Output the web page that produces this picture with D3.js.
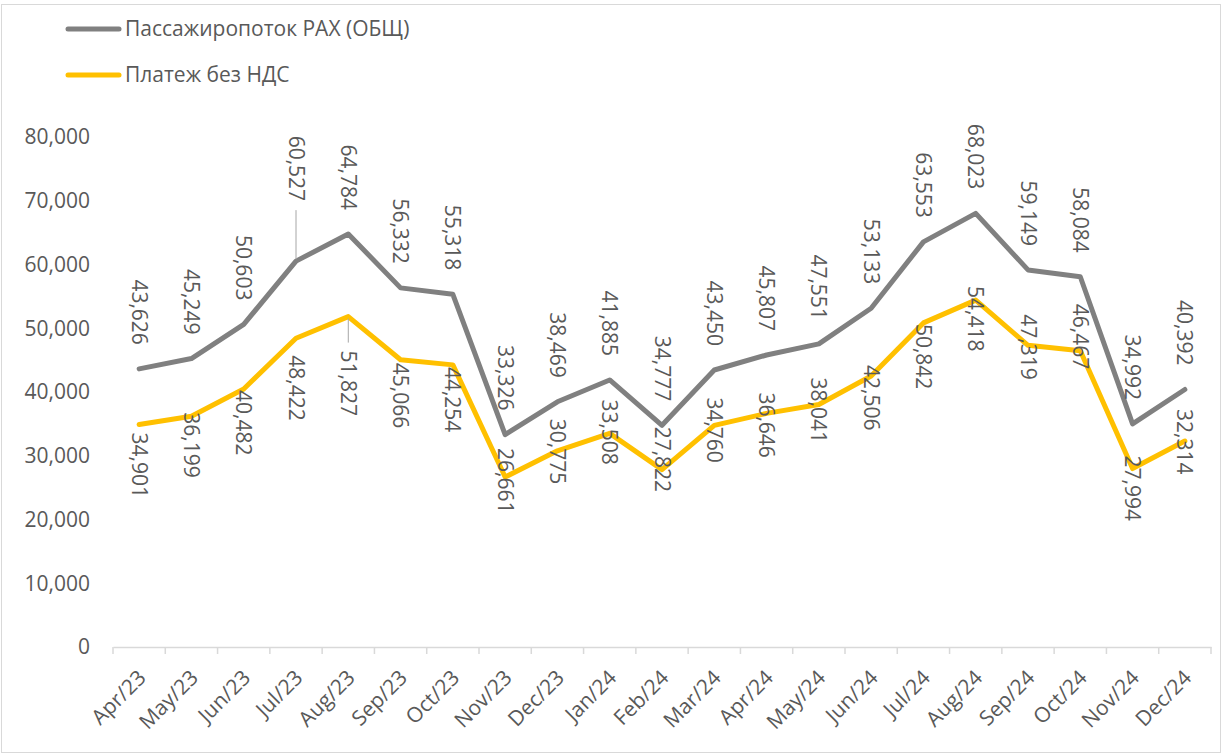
<!DOCTYPE html>
<html>
<head>
<meta charset="utf-8">
<script src="https://cdn.jsdelivr.net/npm/d3@7"></script>
<style>
  body { margin: 0; background: #fff; }
  text { font-family: "Open Sans", sans-serif; fill: #595959; }
</style>
</head>
<body>
<script>
const months = ["Apr/23", "May/23", "Jun/23", "Jul/23", "Aug/23", "Sep/23", "Oct/23", "Nov/23", "Dec/23", "Jan/24", "Feb/24", "Mar/24", "Apr/24", "May/24", "Jun/24", "Jul/24", "Aug/24", "Sep/24", "Oct/24", "Nov/24", "Dec/24"];
const passengers = [43626, 45249, 50603, 60527, 64784, 56332, 55318, 33326, 38469, 41885, 34777, 43450, 45807, 47551, 53133, 63553, 68023, 59149, 58084, 34992, 40392];
const payments = [34901, 36199, 40482, 48422, 51827, 45066, 44254, 26661, 30775, 33508, 27822, 34760, 36646, 38041, 42506, 50842, 54418, 47319, 46467, 27994, 32314];
const yTicks = [0, 10000, 20000, 30000, 40000, 50000, 60000, 70000, 80000];
const seriesNames = ["Пассажиропоток РАХ (ОБЩ)", "Платеж без НДС"];

// label placement (px), as the labels were dragged in the original
const grayLabelGap = months.map((m, i) => i === 3 ? 60 : 24);
const yellowLabelShift = [8, -4, 1, 17, 34, 3, 2, -29, -32, -34, -43, -28, -21, -27, -11, 1, -14, -31, -47, -13, -32];

const width = 1224, height = 755;
const fontSize = 21;

let svg = d3.select("body").append("svg")
    .attr("width", width)
    .attr("height", height);

//border
svg.append("rect")
    .attr("x", 1.5).attr("y", 4.5)
    .attr("width", 1219).attr("height", 748)
    .attr("fill", "none")
    .attr("stroke", "#d9d9d9");

//scales
let xScale = d3.scaleBand().domain(months).range([113, 1211]);
let yScale = d3.scaleLinear().domain([0, 80000]).range([647, 137]);
const cx = (m) => xScale(m) + xScale.bandwidth() / 2;

//y labels
svg.append("g").selectAll("text")
    .data(yTicks)
    .enter()
    .append("text")
    .attr("x", 90)
    .attr("y", (d) => yScale(d))
    .attr("dy", "0.35em")
    .attr("text-anchor", "end")
    .style("font-size", fontSize + "px")
    .text((d) => d3.format(",")(d));

//x axis
const xAxis = d3.axisBottom(xScale).tickSize(0).tickFormat("");
let gx = svg.append("g").attr("transform", "translate(0, 647)").call(xAxis);
gx.select(".domain").attr("stroke", "#d9d9d9").attr("stroke-width", 1.5);
const bounds = months.map((m) => xScale(m)).concat([xScale.range()[1]]);
svg.append("g").selectAll("line")
    .data(bounds)
    .enter()
    .append("line")
    .attr("x1", (d) => d).attr("x2", (d) => d)
    .attr("y1", 647).attr("y2", 654)
    .attr("stroke", "#d9d9d9")
    .attr("stroke-width", 1.5);

svg.append("g").selectAll("text")
    .data(months)
    .enter()
    .append("text")
    .attr("transform", (d) => `translate(${cx(d) + 8}, 679) rotate(-45)`)
    .attr("text-anchor", "end")
    .style("font-size", fontSize + "px")
    .text((d) => d);

//lines
const line = d3.line().x((d, i) => cx(months[i])).y((d) => yScale(d));
svg.append("path")
    .datum(passengers)
    .attr("d", line)
    .attr("fill", "none")
    .attr("stroke", "#808080")
    .attr("stroke-width", 5)
    .attr("stroke-linejoin", "round")
    .attr("stroke-linecap", "round");
svg.append("path")
    .datum(payments)
    .attr("d", line)
    .attr("fill", "none")
    .attr("stroke", "#ffc000")
    .attr("stroke-width", 5)
    .attr("stroke-linejoin", "round")
    .attr("stroke-linecap", "round");

//leader lines
svg.append("line")
    .attr("x1", cx(months[3])).attr("x2", cx(months[3]))
    .attr("y1", yScale(passengers[3]) - grayLabelGap[3] + 9)
    .attr("y2", yScale(passengers[3]) - 2)
    .attr("stroke", "#a6a6a6");
svg.append("line")
    .attr("x1", cx(months[4])).attr("x2", cx(months[4]))
    .attr("y1", yScale(payments[4]) + 2)
    .attr("y2", yScale(payments[4]) + yellowLabelShift[4] - 8)
    .attr("stroke", "#a6a6a6");

//data labels
svg.append("g").selectAll("text")
    .data(passengers)
    .enter()
    .append("text")
    .attr("transform", (d, i) => `translate(${cx(months[i])}, ${yScale(d) - grayLabelGap[i]}) rotate(90)`)
    .attr("dy", "0.35em")
    .attr("text-anchor", "end")
    .style("font-size", fontSize + "px")
    .text((d) => d3.format(",")(d));

svg.append("g").selectAll("text")
    .data(payments)
    .enter()
    .append("text")
    .attr("transform", (d, i) => `translate(${cx(months[i])}, ${yScale(d) + yellowLabelShift[i]}) rotate(90)`)
    .attr("dy", "0.35em")
    .attr("text-anchor", "start")
    .style("font-size", fontSize + "px")
    .text((d) => d3.format(",")(d));

//legend
const legendColors = ["#808080", "#ffc000"];
let legend = svg.append("g").selectAll("g")
    .data(seriesNames)
    .enter()
    .append("g")
    .attr("transform", (d, i) => `translate(0, ${29 + i * 46})`);
legend.append("line")
    .attr("x1", 68).attr("x2", 119)
    .attr("y1", 0).attr("y2", 0)
    .attr("stroke", (d, i) => legendColors[i])
    .attr("stroke-width", 5)
    .attr("stroke-linecap", "round");
legend.append("text")
    .attr("x", 125)
    .attr("dy", "0.35em")
    .style("font-size", fontSize + "px")
    .text((d) => d);
</script>
</body>
</html>
